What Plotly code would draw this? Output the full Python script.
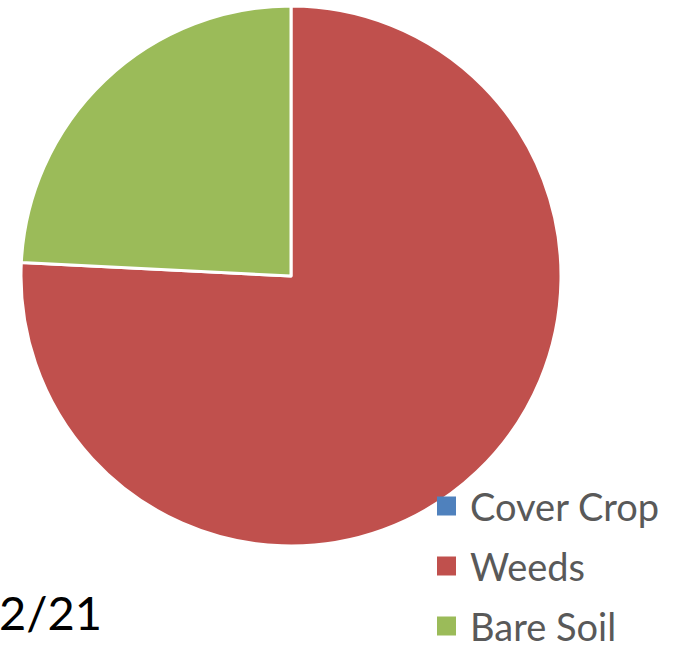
import plotly.graph_objects as go

labels = ["Cover Crop", "Weeds", "Bare Soil"]
values = [0, 75.8, 24.2]
colors = ["#4F81BD", "#C0504D", "#9BBB59"]
corner_text = "2/21"

W, H = 677, 650

fig = go.Figure()
fig.add_trace(go.Pie(
    labels=labels,
    values=values,
    sort=False,
    direction="clockwise",
    rotation=0,
    textinfo="none",
    hoverinfo="label+percent",
    marker=dict(colors=colors, line=dict(color="white", width=3)),
    domain=dict(x=[21 / W, 561 / W], y=[(H - 546) / H, (H - 6) / H]),
    showlegend=False,
))

# custom legend
legend_x0 = 437
legend_size = 19
row_y = [506, 566, 626]  # vertical centers in px (from top)
for lab, col, yc in zip(labels, colors, row_y):
    fig.add_shape(type="rect", xref="paper", yref="paper",
                  x0=legend_x0 / W, x1=(legend_x0 + legend_size) / W,
                  y0=(H - yc - legend_size / 2) / H, y1=(H - yc + legend_size / 2) / H,
                  fillcolor=col, line=dict(width=0))
    fig.add_annotation(x=468 / W, y=(H - yc) / H, xref="paper", yref="paper",
                       text=lab, showarrow=False, xanchor="left", yanchor="middle",
                       font=dict(family="Lato", size=38, color="#595959"))

fig.add_annotation(x=-3 / W, y=(H - 612) / H, xref="paper", yref="paper",
                   text=corner_text, showarrow=False, xanchor="left", yanchor="middle",
                   font=dict(family="Lato", size=47, color="#000000"))

fig.update_layout(
    width=W, height=H,
    margin=dict(l=0, r=0, t=0, b=0),
    paper_bgcolor="white",
    plot_bgcolor="white",
)

fig.write_html("out.html", config={"displayModeBar": False},
               post_script="document.body.style.margin='0';")
